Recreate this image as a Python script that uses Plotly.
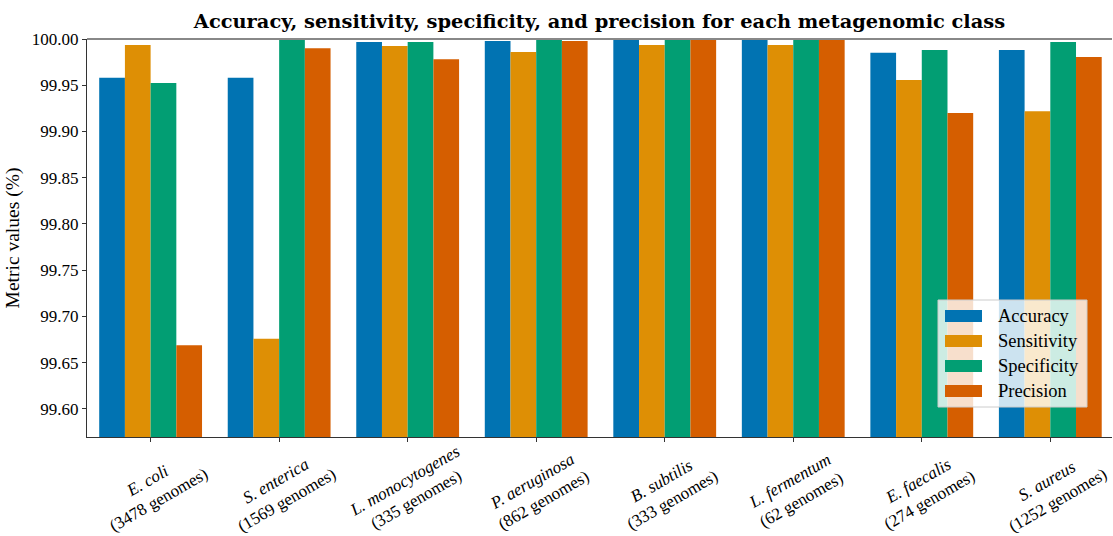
import plotly.graph_objects as go

species = ["E. coli", "S. enterica", "L. monocytogenes", "P. aeruginosa",
           "B. subtilis", "L. fermentum", "E. faecalis", "S. aureus"]
genomes = [3478, 1569, 335, 862, 333, 62, 274, 1252]

accuracy    = [99.958, 99.958, 99.9968, 99.9978, 100.0, 100.0, 99.985, 99.988]
sensitivity = [99.9935, 99.676, 99.9924, 99.986, 99.9935, 99.9935, 99.9557, 99.922]
specificity = [99.9524, 100.0, 99.9968, 100.0, 100.0, 100.0, 99.988, 99.9968]
precision   = [99.669, 99.990, 99.978, 99.9978, 100.0, 100.0, 99.920, 99.9805]

metric_names = ["Accuracy", "Sensitivity", "Specificity", "Precision"]
metric_values = [accuracy, sensitivity, specificity, precision]
colors = ["#0173B2", "#DE8F05", "#029E73", "#D55E00"]

y_ticks = [99.60, 99.65, 99.70, 99.75, 99.80, 99.85, 99.90, 99.95, 100.00]

FONT = "Liberation Serif"
x = list(range(len(species)))

fig = go.Figure()
for name, vals, col in zip(metric_names, metric_values, colors):
    fig.add_trace(go.Bar(x=x, y=vals, name=name, marker=dict(color=col, line=dict(width=0)),
                         showlegend=False))

fig.update_layout(
    width=1113, height=536,
    margin=dict(l=87, r=1, t=39, b=99, autoexpand=False),
    paper_bgcolor="white", plot_bgcolor="white",
    barmode="group", bargap=0.2, bargroupgap=0,
    font=dict(family=FONT, size=17, color="black"),
    title=dict(text="<b>Accuracy, sensitivity, specificity, and precision for each metagenomic class</b>",
               x=0.5, xanchor="center", xref="paper", y=1 - 21 / 536, yref="container",
               yanchor="middle", automargin=False,
               font=dict(family="DejaVu Serif", size=19.4, color="black")),
)
fig.update_xaxes(range=[-0.495, 7.48], tickvals=x, ticktext=[""] * len(x), automargin=False,
                 ticks="outside", ticklen=4, tickcolor="#333", showgrid=False,
                 showline=True, linecolor="#333", linewidth=1, mirror=False, zeroline=False)
fig.update_yaxes(range=[99.5697, 100.0], tickvals=y_ticks, automargin=False,
                 ticktext=[f"{v:.2f}" for v in y_ticks],
                 ticks="outside", ticklen=4, tickcolor="#333", showgrid=False,
                 showline=True, linecolor="#333", linewidth=1,
                 mirror=False, zeroline=False,
                 title=dict(text="Metric values (%)", font=dict(family=FONT, size=19.5), standoff=7))

# top spine (gray)
fig.add_shape(type="line", xref="paper", yref="paper", x0=0, x1=1, y0=1, y1=1,
              line=dict(color="#888888", width=2), layer="above")

# rotated, centered category labels
for i, (sp, g) in enumerate(zip(species, genomes)):
    fig.add_annotation(x=i, xref="x", y=0, yref="paper", xshift=2, yshift=-53,
                       text=f"<i>{sp}</i><br>({g} genomes)", textangle=-30,
                       showarrow=False, xanchor="center", yanchor="middle", align="center",
                       font=dict(family=FONT, size=17))

# legend built from the metric names / colors
lx0, ly0 = 938, 300
fig.add_shape(type="rect", xref="paper", yref="paper",
              x0=(lx0 - 87) / 1025, x1=(1087 - 87) / 1025,
              y0=(437 - 407) / 398, y1=(437 - ly0) / 398,
              fillcolor="rgba(255,255,255,0.8)", line=dict(color="#cccccc", width=1), layer="above")
for k, (name, col) in enumerate(zip(metric_names, colors)):
    yc = 316 + 25 * k
    fig.add_shape(type="rect", xref="paper", yref="paper",
                  x0=(945 - 87) / 1025, x1=(982 - 87) / 1025,
                  y0=(437 - yc - 6) / 398, y1=(437 - yc + 6) / 398,
                  fillcolor=col, line=dict(width=0), layer="above")
    fig.add_annotation(x=(996 - 87) / 1025, xref="paper", y=(437 - yc) / 398, yref="paper",
                       text=name, showarrow=False, xanchor="left", yanchor="middle",
                       font=dict(family=FONT, size=18.5))

fig.write_html("out.html", config={"displayModeBar": False},
               post_script="document.body.style.margin='0px';")
